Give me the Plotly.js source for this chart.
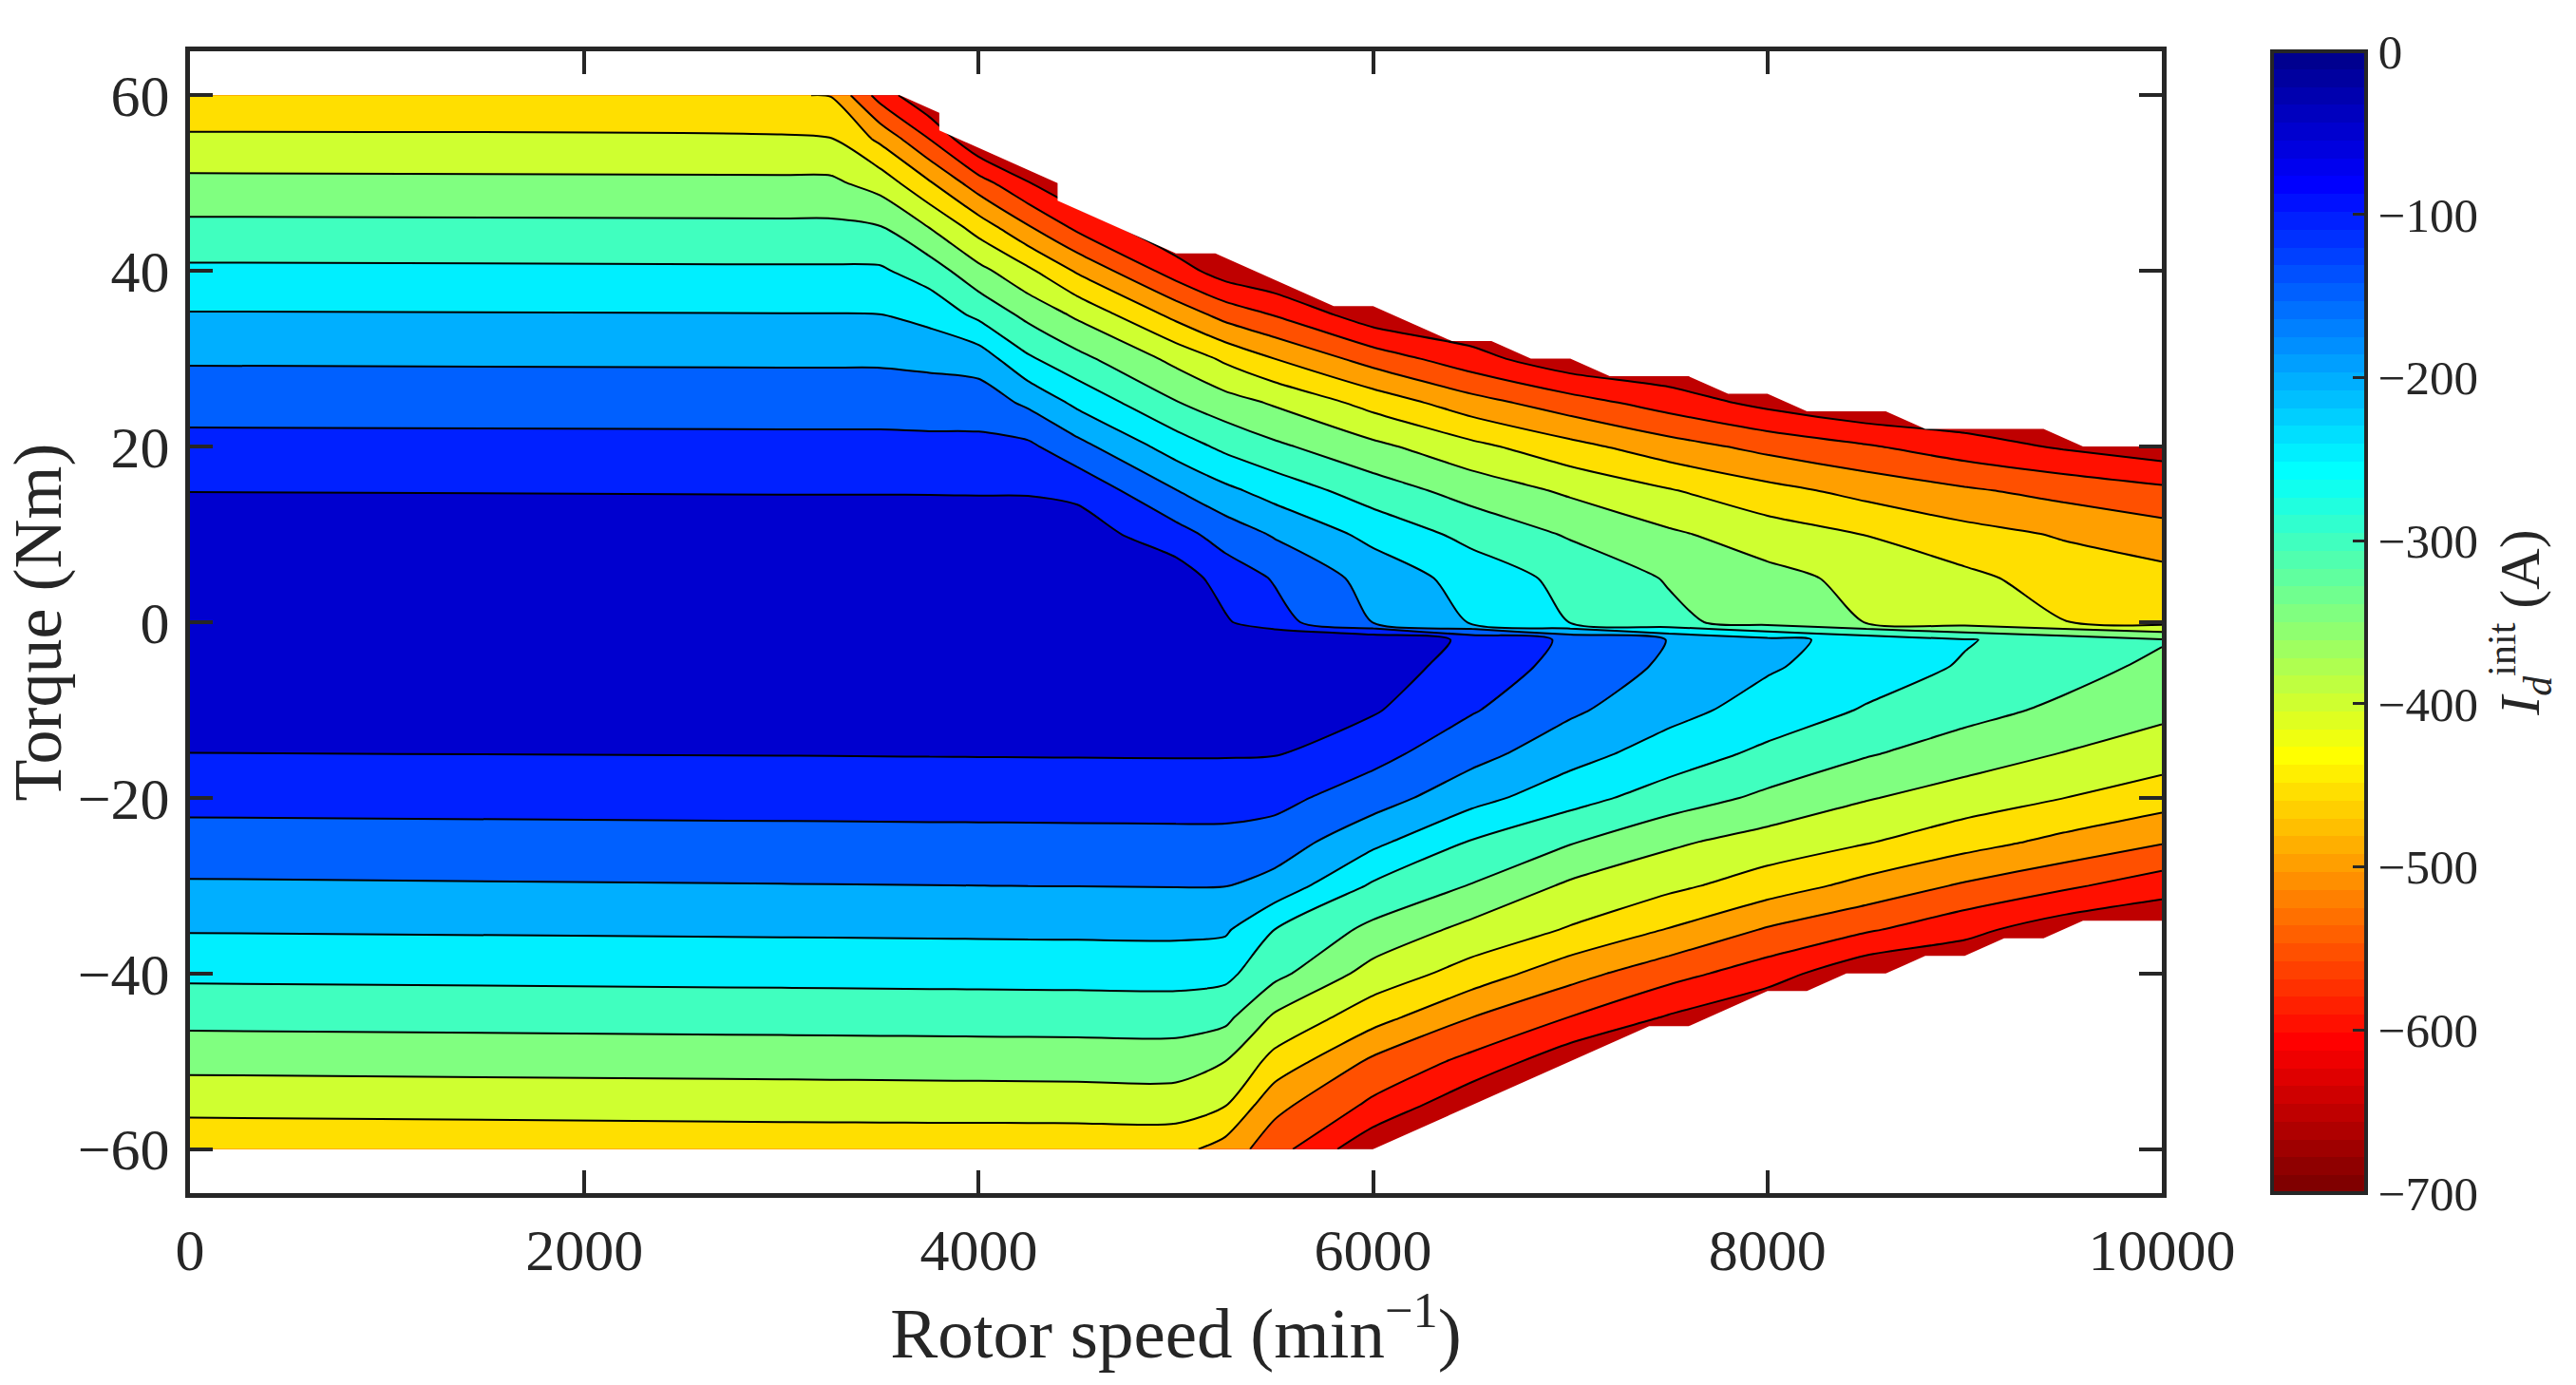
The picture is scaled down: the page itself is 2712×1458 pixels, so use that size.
<!DOCTYPE html>
<html>
<head>
<meta charset="utf-8">
<script src="https://cdn.plot.ly/plotly-3.0.1.min.js"></script>
<style>
html,body{margin:0;padding:0;background:#ffffff;}
#chart{width:2712px;height:1458px;}
</style>
</head>
<body>
<div id="chart"></div>
<script>
// ---------------- data ----------------
const speed  = [0, 3000, 3250, 3500, 3750, 4000, 4250, 4500, 5000, 5250, 5500, 6000, 6500, 7000, 7500, 8000, 8500, 9000, 9500, 10000];
const torque = [-60, -55, -50, -45, -40, -35, -30, -25, -20, -15, -10, -5, -2, 0, 5, 10, 15, 20, 25, 30, 35, 40, 45, 50, 55, 60];

// I_d^init (A) for each torque row, one value per speed column
const idAtTm60 = [-437.5, -432, -432, -432, -432.2, -432.5, -432.6, -432.7, -433, -470.2, -529.5, -640, -649, -649, -649, -649, -649, -649, -649, -649];
const idAtTm55 = [-385.4, -380.2, -379.8, -379.3, -378.8, -378.4, -378, -377.5, -376.6, -398, -485.7, -560.6, -640, -649, -649, -649, -649, -649, -649, -649];
const idAtTm50 = [-334, -329, -328.6, -328.1, -327.7, -327.3, -326.8, -326.4, -325.5, -350, -417.2, -510, -564, -635, -649, -649, -649, -649, -649, -649];
const idAtTm45 = [-285.2, -280.6, -280.2, -279.8, -279.4, -279, -278.6, -278.2, -277.4, -287, -358.3, -430.3, -500, -551.3, -605, -649, -649, -649, -649, -649];
const idAtTm40 = [-239.7, -235.3, -234.9, -234.5, -234, -233.6, -233.2, -232.8, -231.9, -237.3, -285.3, -369.5, -420.7, -481.7, -531.5, -576.9, -640, -649, -649, -649];
const idAtTm35 = [-196.7, -192.6, -192.2, -191.8, -191.4, -191, -190.5, -190.1, -189.3, -193, -250, -312.5, -365.3, -404.4, -452.8, -504.9, -543.4, -584.8, -630, -649];
const idAtTm30 = [-155.7, -151.6, -151.2, -150.9, -150.5, -150.1, -149.7, -149.4, -148.6, -148.8, -168.1, -257.1, -302.7, -358.8, -388.1, -424.5, -465.9, -506.5, -540.4, -578];
const idAtTm25 = [-119.3, -116.2, -115.9, -115.6, -115.3, -115.1, -114.8, -114.5, -113.9, -114, -122.5, -187.5, -253.4, -295.8, -340.9, -370.7, -396.5, -429.8, -463.2, -495.4];
const idAtTm20 = [-84.5, -82, -81.8, -81.5, -81.2, -81, -80.8, -80.5, -80, -80, -85, -127, -182.6, -231.5, -273.1, -310.7, -346.4, -373.4, -399.5, -427.2];
const idAtTm15 = [-50.7, -48.7, -48.5, -48.2, -47.9, -47.7, -47.5, -47.2, -46.7, -47, -47.5, -84, -133.3, -180.8, -223.6, -261.6, -295.9, -324.6, -352, -375];
const idAtTm10 = [-23, -22, -22, -21.8, -21.6, -21.5, -21.4, -21.3, -21, -21, -22, -45, -95.8, -141.8, -183.3, -220.3, -254.1, -283.5, -309.7, -338];
const idAtTm5  = [-6, -5.5, -5.5, -5.4, -5.35, -5.3, -5.25, -5.2, -5, -5, -6, -25, -70.1, -117.1, -158.2, -194, -225, -254.3, -280.7, -310.6];
const idAtTm2  = [-1, -1, -1, -1, -1, -1, -1, -1, -1, -1, -2, -8, -61.5, -108.6, -151.4, -186.1, -217.4, -246.5, -271.6, -296];
const idAtT0   = [0, 0, 0, 0, 0, 0, 0, 0, -1, -44, -82, -151, -204.4, -251.2, -288.3, -321, -351.3, -374.8, -398.8, -418.4];
const idAtT5   = [-6, -6.5, -6.5, -6.5, -7, -7, -7.5, -9, -22, -71.4, -104, -168, -219.8, -264.7, -304, -334.5, -363.7, -388.3, -420.9, -433.4];
const idAtT10  = [-23, -24, -24, -24, -24.2, -24.5, -24.5, -25, -80.5, -121.2, -155, -214.3, -264.9, -305.2, -342, -375, -401.3, -431.9, -454.7, -477.2];
const idAtT15  = [-51, -52.7, -52.7, -52.7, -53, -53.4, -53.6, -62, -148.6, -188.4, -220, -275.3, -319.8, -358.8, -396.5, -434, -466.2, -493.2, -516.7, -538.6];
const idAtT20  = [-85, -86.5, -86.5, -86.5, -87.7, -87.7, -89.9, -133.3, -223.4, -261.6, -290.3, -337.7, -386.4, -434.2, -478.6, -515.3, -545, -577.9, -606, -630.8];
const idAtT25  = [-119.7, -121, -121.1, -121.1, -122.9, -123.9, -159.3, -211.8, -297.1, -329.2, -355.9, -418, -479.8, -528.6, -572.7, -615, -649, -649, -649, -649];
const idAtT30  = [-155.7, -157.4, -157.4, -157.5, -162.8, -172, -242.4, -285.3, -363.8, -409.1, -450, -521.4, -581, -636, -649, -649, -649, -649, -649, -649];
const idAtT35  = [-196.7, -198.4, -198.4, -199.2, -216, -261.4, -313.5, -358.9, -465, -518.1, -552.4, -631, -649, -649, -649, -649, -649, -649, -649, -649];
const idAtT40  = [-241, -243, -242.9, -243, -273.7, -334.8, -389.7, -456.5, -575, -625.5, -649, -649, -649, -649, -649, -649, -649, -649, -649, -649];
const idAtT45  = [-288.5, -290.4, -290.4, -297.7, -351.7, -422, -495.5, -562.5, -649, -649, -649, -649, -649, -649, -649, -649, -649, -649, -649, -649];
const idAtT50  = [-338, -340, -340, -370.3, -444, -528, -597.8, -649, -649, -649, -649, -649, -649, -649, -649, -649, -649, -649, -649, -649];
const idAtT55  = [-391.3, -394.4, -397.6, -460.4, -550, -649, -649, -649, -649, -649, -649, -649, -649, -649, -649, -649, -649, -649, -649, -649];
const idAtT60  = [-443, -447, -452, -571, -649, -649, -649, -649, -649, -649, -649, -649, -649, -649, -649, -649, -649, -649, -649, -649];

// edge of the feasible operating region (outside it the map is blank)
const upperLimitSpeed  = [3600, 3800, 3800, 4400, 4400, 5000, 5200, 5800, 6000, 6400, 6600, 6800, 7000, 7200, 7600, 7800, 8000, 8200, 8600, 8800, 9400, 9600, 10000];
const upperLimitTorque = [60, 58, 56, 50, 48, 42, 42, 36, 36, 32, 32, 30, 30, 28, 28, 26, 26, 24, 24, 22, 22, 20, 20];
const lowerLimitSpeed  = [6000, 7400, 7600, 8000, 8200, 8400, 8600, 8800, 9000, 9200, 9400, 9600, 10000];
const lowerLimitTorque = [-60, -46, -46, -42, -42, -40, -40, -38, -38, -36, -36, -34, -34];

// ticks
const speedTicks = [0, 2000, 4000, 6000, 8000, 10000];
const speedTickText = ["0", "2000", "4000", "6000", "8000", "10000"];
const torqueTicks = [-60, -40, -20, 0, 20, 40, 60];
const torqueTickText = ["\u221260", "\u221240", "\u221220", "0", "20", "40", "60"];
const idTicks = [0, -100, -200, -300, -400, -500, -600, -700];
const idTickText = ["0", "\u2212100", "\u2212200", "\u2212300", "\u2212400", "\u2212500", "\u2212600", "\u2212700"];
const idMin = -700, idMax = 0;

// ---------------- styling ----------------
const FONT = "Liberation Serif, Times New Roman, serif";
const INK = "#262626";

function jet(i) { // MATLAB jet(64), i = 1..64
  const r = i < 25 ? 0 : (i <= 40 ? (i - 24) / 16 : (i <= 55 ? 1 : (72 - i) / 16));
  const g = i < 9 ? 0 : (i <= 24 ? (i - 8) / 16 : (i <= 39 ? 1 : (i <= 55 ? (56 - i) / 16 : 0)));
  const b = i <= 8 ? (i + 8) / 16 : (i <= 23 ? 1 : (i <= 39 ? (40 - i) / 16 : 0));
  return [r, g, b];
}
function rgb(c) {
  return "rgb(" + Math.round(c[0] * 255) + "," + Math.round(c[1] * 255) + "," + Math.round(c[2] * 255) + ")";
}

// contour bands take the colour of their lower level (flipped jet over [-700, 0])
const cStart = -650, cEnd = -50, cSize = 50;
const nLevels = Math.round((cEnd - cStart) / cSize) + 1;
const contourScale = [];
for (let k = 0; k <= nLevels; k++) {
  const lower = cStart + cSize * (k - 1);
  const idx = 1 + Math.floor((lower - idMin) / (idMax - idMin) * 64);
  contourScale.push([k / nLevels, rgb(jet(Math.max(1, Math.min(64, 65 - idx))))]);
}

// 64-step colour bar
const barScale = [];
for (let k = 0; k < 64; k++) {
  const c = rgb(jet(64 - k));
  barScale.push([k / 64, c]);
  barScale.push([(k + 1) / 64, c]);
}

const zGrid = [idAtTm60, idAtTm55, idAtTm50, idAtTm45, idAtTm40, idAtTm35, idAtTm30, idAtTm25,
  idAtTm20, idAtTm15, idAtTm10, idAtTm5, idAtTm2, idAtT0, idAtT5, idAtT10, idAtT15, idAtT20,
  idAtT25, idAtT30, idAtT35, idAtT40, idAtT45, idAtT50, idAtT55, idAtT60];

const tMaxData = torque[torque.length - 1] + 1;
const tMinData = torque[0] - 1;
const sMax = speed[speed.length - 1];

const traces = [
  { // carrier for the colour bar only (placed outside the visible x range)
    type: "heatmap",
    x: [-3000, -2000], y: [0], z: [[idMin, idMax]],
    zmin: idMin, zmax: idMax,
    colorscale: barScale,
    hoverinfo: "skip",
    showscale: true,
    colorbar: {
      x: 1.0559, xanchor: "left", xpad: 0,
      y: 0.5, yanchor: "middle", ypad: 0,
      len: 1, lenmode: "fraction",
      thickness: 99, thicknessmode: "pixels",
      outlinewidth: 4, outlinecolor: INK,
      tickmode: "array", tickvals: idTicks, ticktext: idTickText,
      ticks: "inside", ticklen: 16, tickwidth: 3, tickcolor: INK,
      tickfont: { family: FONT, size: 51, color: INK },
      title: { text: "<i>I</i><sub><i>d</i></sub><sup>init</sup> (A)", side: "right",
               font: { family: FONT, size: 60, color: INK } }
    }
  },
  {
    type: "contour",
    x: speed, y: torque, z: zGrid,
    autocontour: false,
    contours: { start: cStart, end: cEnd, size: cSize, coloring: "fill", showlines: true },
    colorscale: contourScale,
    showscale: false,
    line: { color: "#000000", width: 2, smoothing: 0.7 },
    hoverinfo: "skip"
  },
  { // blank region above the torque limit
    type: "scatter", mode: "lines",
    x: upperLimitSpeed.concat([sMax, upperLimitSpeed[0]]),
    y: upperLimitTorque.concat([tMaxData, tMaxData]),
    fill: "toself", fillcolor: "#ffffff",
    line: { width: 0, color: "#ffffff" },
    hoverinfo: "skip"
  },
  { // blank region below the torque limit
    type: "scatter", mode: "lines",
    x: lowerLimitSpeed.concat([sMax, lowerLimitSpeed[0]]),
    y: lowerLimitTorque.concat([tMinData, tMinData]),
    fill: "toself", fillcolor: "#ffffff",
    line: { width: 0, color: "#ffffff" },
    hoverinfo: "skip"
  }
];

const axisCommon = {
  ticks: "inside", ticklen: 24, tickwidth: 4, tickcolor: INK,
  showline: true, linewidth: 5, linecolor: INK, mirror: "ticks",
  showgrid: false, zeroline: false,
  tickfont: { family: FONT, size: 62, color: INK },
  tickmode: "array"
};

const layout = {
  width: 2712, height: 1458,
  margin: { l: 200, r: 436, t: 54, b: 202, pad: 0, autoexpand: false },
  paper_bgcolor: "#ffffff", plot_bgcolor: "#ffffff",
  showlegend: false,
  font: { family: FONT, color: INK, size: 62 },
  xaxis: Object.assign({}, axisCommon, {
    range: [0, 10000], tickvals: speedTicks, ticktext: speedTickText,
    ticklabelstandoff: 2,
    title: { text: "Rotor speed (min<sup>\u22121</sup>)", font: { family: FONT, size: 75, color: INK }, standoff: 10 }
  }),
  yaxis: Object.assign({}, axisCommon, {
    range: [-65, 65], tickvals: torqueTicks, ticktext: torqueTickText,
    ticklabelstandoff: 4,
    title: { text: "Torque (Nm)", font: { family: FONT, size: 72, color: INK }, standoff: 6 }
  })
};

Plotly.newPlot("chart", traces, layout, { displayModeBar: false, staticPlot: true });
</script>
</body>
</html>
